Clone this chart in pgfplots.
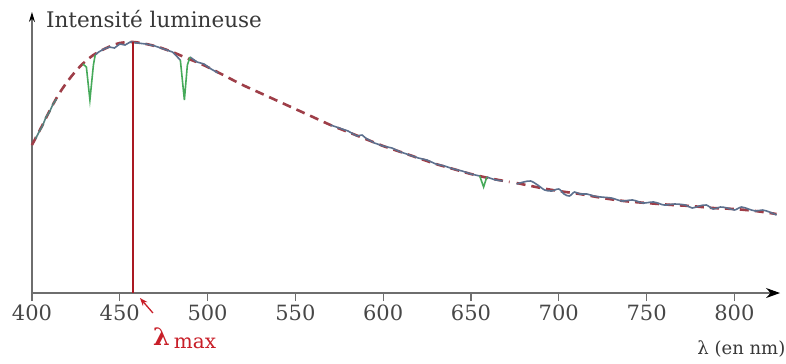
\documentclass[border=0pt]{standalone}
\usepackage{pgfplots}
\pgfplotsset{compat=1.18}
\usepackage{fontspec}
\setmainfont{DejaVu Serif}
\usetikzlibrary{arrows.meta}
\definecolor{dashred}{RGB}{158,62,72}
\definecolor{specblue}{RGB}{92,112,142}
\definecolor{specgreen}{RGB}{70,170,90}
\definecolor{lred}{RGB}{200,30,40}
\definecolor{axgray}{RGB}{110,110,110}
\begin{document}
\begin{tikzpicture}
\begin{axis}[
  scale only axis,
  width=748pt, height=281pt,
  xmin=400, xmax=826, ymin=0, ymax=281,
  axis lines=left,
  axis line style={line width=1.1pt, axgray},
  x axis line style={-{Stealth[length=14pt,width=10pt,black]}},
  y axis line style={-{Stealth[length=10pt,width=6pt,black]}},
  xtick={400,450,...,800},
  ytick=\empty,
  tick align=outside,
  major tick length=8pt,
  tick style={axgray, line width=1.1pt},
  xticklabel style={font=\fontsize{21}{23}\selectfont, text=black!72, yshift=0pt},
  /pgf/number format/assume math mode=true,
  clip=false,
]
% dashed smooth envelope
\addplot[dashred, line width=2.6pt, dash pattern=on 9pt off 6pt, smooth] coordinates {
(400,148) (403,158) (406,168) (410,182) (415,198) (420,211) (425,222) (430,231)
(435,238) (440,243) (445,247) (450,250) (457.5,251) (465,249) (472,246) (480,241)
(488,235) (495,230) (500,226) (510,217) (520,208) (530,200) (540,192) (550,184)
(560,176) (570,168) (580,161) (590,154) (600,147) (610,141) (620,135) (630,129)
(640,124) (650,119) (660,115) (672,111)};
\addplot[dashred, line width=2.6pt, dash pattern=on 9pt off 6pt, smooth] coordinates {
(676,110) (690,105) (700,102) (712,99) (725,95) (737,92) (750,90) (765,88)
(775,87) (788,85) (800,84) (812,82) (824,79)};
% spectrum (solid)
\addplot[specblue!70!specgreen, line width=1.6pt] coordinates {
(402,154) (404,161) (406,167) (408,176) (410,181) (412,189) (414,194)};
\addplot[specblue, line width=1.6pt] coordinates {
(436,238) (438,241) (441,244) (444,246) (447,245) (450,249) (453,248) (456,251)
(460,250) (465,249) (470,247) (475,244) (480,241) (484.5,233)};
\addplot[specblue, line width=1.6pt] coordinates {
(490,236) (494,231) (498,229) (502,224) (506,220)};
\addplot[specblue, line width=1.6pt] coordinates {
(570,168) (575,165) (580,162) (585,157) (588,158) (590,155) (595,150) (600,147) (605,145)
(610,141) (615,138) (620,135) (625,133) (630,129) (635,127) (640,124) (645,122)
(650,119) (655,117)};
\addplot[specblue, line width=1.6pt] coordinates {
(659,116) (664,113) (668,112)};
\addplot[specblue, line width=1.6pt, smooth] coordinates {
(676,109) (680,111) (684,112) (688,108) (692,103) (696,102) (700,104) (703,99)
(706,97) (709,101) (712,99) (716,99) (720,97) (724,96) (730,95) (736,92) (742,93)
(748,90) (754,91) (760,88) (766,89) (772,88) (776,85) (780,87) (784,88) (788,84)
(792,86) (796,85) (800,83) (804,86) (808,84) (812,82) (816,83) (820,81) (824,78)};
% absorption lines (green)
\addplot[specgreen, line width=1.6pt] coordinates {
(429,229) (431,226) (433,193) (435,228) (436,238)};
\addplot[specgreen, line width=1.6pt] coordinates {
(484.5,233) (486.8,193) (488.5,228) (490,236)};
\addplot[specgreen, line width=1.6pt] coordinates {
(655,117) (657.2,106) (659,116)};
% lambda max line
\addplot[lred!85!black, line width=1.2pt] coordinates {(457.5,0) (457.5,251)};
% texts
\node[anchor=base west, font=\fontsize{21.5}{24}\selectfont, text=black!78] at (axis cs:406,265) {Intensité lumineuse};
\node[anchor=base east, font=\fontsize{18}{20}\selectfont, text=black!78] at (axis cs:831,-61) {λ (en nm)};
\node[anchor=base west, inner sep=0pt, text=lred] at (axis cs:468.9,-52) {\fontsize{24}{26}\selectfont\bfseries λ\,\raisebox{-3pt}{\fontsize{20}{22}\selectfont\mdseries max}};
\draw[lred, line width=1.3pt, -{Stealth[length=8pt,width=6pt]}] (axis cs:468.9,-20) -- (axis cs:461.5,-5);
\coordinate (bl) at (axis cs:381.8,-70);
\coordinate (tr) at (axis cs:829.4,293);
\end{axis}
\pgfresetboundingbox
\path (bl) rectangle (tr);
\end{tikzpicture}
\end{document}
